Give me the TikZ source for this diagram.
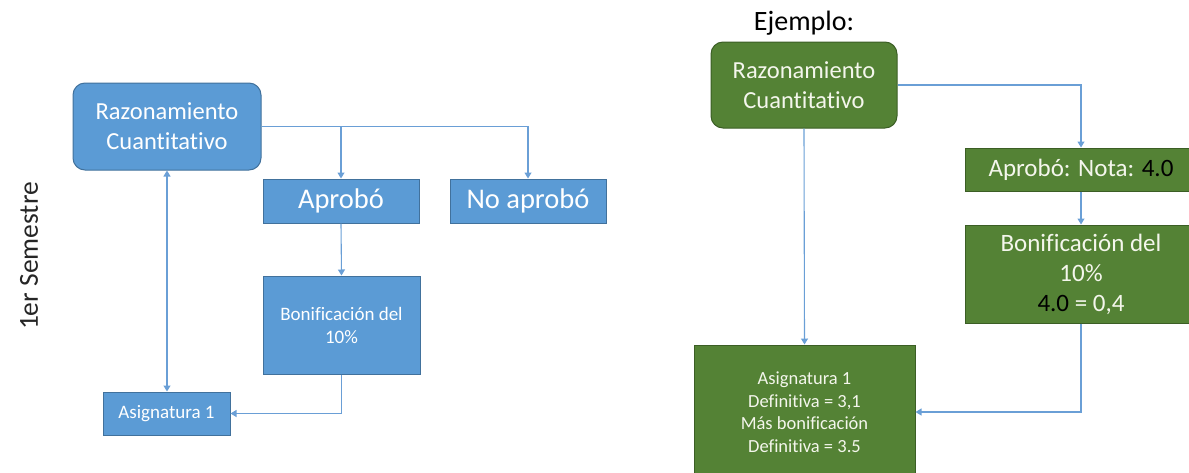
\documentclass[tikz,border=0pt]{standalone}
\usepackage{fontspec}
\setmainfont[Ligatures={NoCommon}]{Carlito}
\usetikzlibrary{arrows.meta}
\definecolor{bfill}{HTML}{5B9BD5}
\definecolor{bdraw}{HTML}{41719C}
\definecolor{gfill}{HTML}{548235}
\definecolor{gdraw}{HTML}{3B5E25}
\definecolor{conn}{HTML}{6A9FD6}
\definecolor{gtext}{HTML}{F4F6EC}
\tikzset{
  box/.style={rectangle, inner sep=0pt, align=center, text=white, line width=1pt},
  bluebox/.style={box, fill=bfill, draw=bdraw},
  greenbox/.style={box, fill=gfill, draw=gdraw, text=gtext},
  link/.style={draw=conn, line width=1.1pt, -{Triangle[length=6pt,width=7pt]}},
  fs/.style args={#1/#2}{font=\fontsize{#1}{#2}\selectfont}
}
\begin{document}
\begin{tikzpicture}[x=1pt,y=-1pt]
\clip (0,0) rectangle (1189,472);
% left
\node[rotate=90, fs=27.5/33, text=black!85] (sem) at (29,256) {1er Semestre};
\node[bluebox, rounded corners=12pt, minimum width=188pt, minimum height=87pt, fs=24.5/30] (rcL) at (167,126.5) {Razonamiento\\Cuantitativo};
\node[bluebox, minimum width=156pt, minimum height=44pt, fs=28.5/34] (apL) at (341,201) {Aprobó};
\node[bluebox, minimum width=156pt, minimum height=44pt, fs=28.5/34] (noL) at (528,201) {No aprobó};
\node[bluebox, minimum width=157pt, minimum height=98pt, fs=19/23] (boL) at (341.5,325) {Bonificación del\\10\%};
\node[bluebox, minimum width=127pt, minimum height=43pt, fs=19/23] (asL) at (166.5,413.5) {Asignatura 1};
\draw[link] (rcL.east) -| (noL.north);
\draw[link] (rcL.east -| apL.north) -- (apL.north);
\draw[link] (apL.south) -- (boL.north);
\draw[link, {Triangle[length=6pt,width=7pt]}-{Triangle[length=6pt,width=7pt]}] (rcL.south) -- (rcL.south |- asL.north);
\draw[link] (boL.south) |- (asL.east);
% right
\node[fs=28/34] (ej) at (804,23) {Ejemplo:};
\node[greenbox, rounded corners=12pt, minimum width=186pt, minimum height=86pt, fs=24.5/30] (rcR) at (804,85) {Razonamiento\\Cuantitativo};
\node[greenbox, minimum width=232pt, minimum height=43pt, fs=25/30] (apR) at (1081,169.5) {Aprobó: Nota: \textcolor{black}{4.0}};
\node[greenbox, minimum width=232pt, minimum height=98pt, fs=25/30] (boR) at (1081,274) {Bonificación del\\10\%\\\textcolor{black}{4.0} = 0,4};
\node[greenbox, minimum width=221pt, minimum height=134pt, fs=18.5/22.5] (asR) at (804.5,412) {Asignatura 1\\Definitiva = 3,1\\Más bonificación\\Definitiva = 3.5};
\draw[link] (rcR.east) -| (apR.north);
\draw[link] (apR.south) -- (boR.north);
\draw[link] (rcR.south) -- (asR.north);
\draw[link] (boR.south) |- (asR.east);
\end{tikzpicture}
\end{document}
